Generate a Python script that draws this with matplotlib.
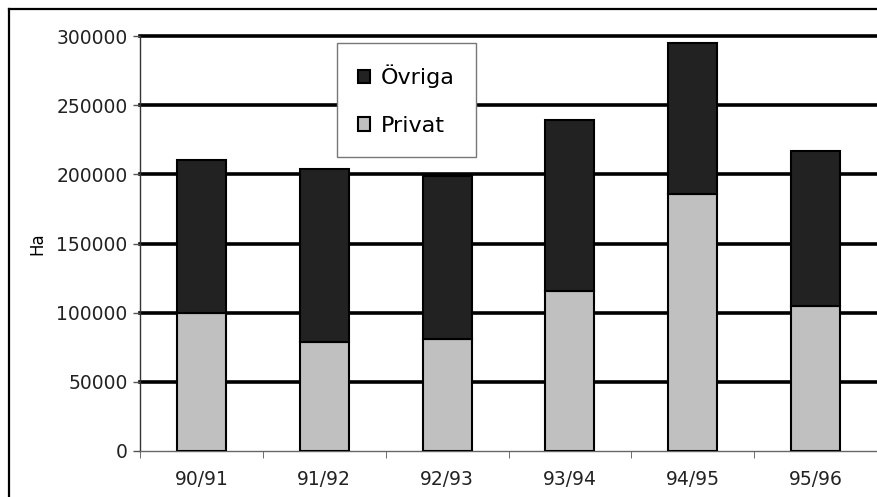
import matplotlib
matplotlib.use("Agg")
import matplotlib.pyplot as plt
from matplotlib.lines import Line2D
import numpy as np

# Data
seasons = ["90/91", "91/92", "92/93", "93/94", "94/95", "95/96"]
privat = [100000, 79000, 81000, 116000, 186000, 105000]
ovriga_total = [210000, 204000, 198500, 239000, 295000, 217000]
ovriga = [t - p for t, p in zip(ovriga_total, privat)]
y_ticks = [0, 50000, 100000, 150000, 200000, 250000, 300000]

W, H = 877, 497
fig = plt.figure(figsize=(W / 100, H / 100), dpi=100)
fig.patch.set_facecolor("white")

# outer frame (only top and left edges are visible in the crop)
fig.add_artist(Line2D([9 / W, 9 / W], [0, 1 - 9 / H], color="black", lw=1.6))
fig.add_artist(Line2D([9 / W, 1], [1 - 9 / H, 1 - 9 / H], color="black", lw=1.6))

ax = fig.add_axes([140 / W, 46 / H, (W - 140) / W, (451 - 36) / H])

x = np.arange(len(seasons))
width = 0.4
ax.bar(x, privat, width, color="#c0c0c0", edgecolor="black", linewidth=1.5,
       label="Privat", zorder=3)
ax.bar(x, ovriga, width, bottom=privat, color="#222222", edgecolor="black",
       linewidth=1.5, label="Övriga", zorder=3)

# heavy horizontal gridlines
for v in y_ticks[1:]:
    ax.axhline(v, color="black", lw=2.6, zorder=1, clip_on=False)

ax.set_xlim(-0.5, len(seasons) - 0.5)
ax.set_ylim(0, 300000)
ax.set_yticks(y_ticks)
ax.set_yticklabels([str(v) for v in y_ticks], fontsize=13.5, color="#222222")
ax.set_xticks(x)
ax.set_xticklabels(seasons, fontsize=13.5, color="#222222")
ax.set_xticks(np.arange(len(seasons) + 1) - 0.5, minor=True)
ax.tick_params(axis="x", which="major", length=0, pad=14)
ax.tick_params(axis="x", which="minor", length=5, color="#555555")
ax.tick_params(axis="y", length=5, width=1, color="#555555", pad=4)

for s in ["top", "right"]:
    ax.spines[s].set_visible(False)
ax.spines["left"].set_color("#333333")
ax.spines["left"].set_linewidth(1)
ax.spines["bottom"].set_color("#666666")
ax.spines["bottom"].set_linewidth(1)

ax.set_ylabel("Ha", fontsize=12, labelpad=7)

handles, labels = ax.get_legend_handles_labels()
leg = ax.legend(handles[::-1], labels[::-1], loc="upper left",
                bbox_to_anchor=(0.267, 0.982), fontsize=16, frameon=True,
                fancybox=False, edgecolor="#777777", framealpha=1,
                handlelength=0.55, handleheight=0.55, handletextpad=0.5,
                labelspacing=1.25, borderpad=0.95, borderaxespad=0)
leg.get_frame().set_linewidth(1)
leg.set_zorder(5)

fig.savefig("out.png", dpi=100)
